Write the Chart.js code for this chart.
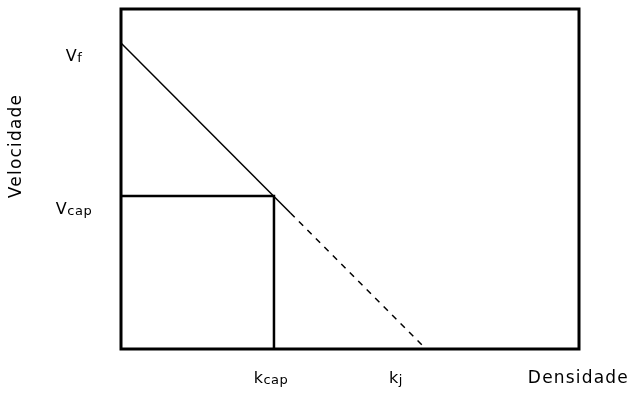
<!DOCTYPE html>
<html>
<head>
<meta charset="utf-8">
<script src="https://cdn.jsdelivr.net/npm/chart.js@4"></script>
<style>
  body { margin: 0; background: #fff; }
  #wrap { width: 630px; height: 394px; }
</style>
</head>
<body>
<div id="wrap"><canvas id="diagram"></canvas></div>
<script>
// values (axes run 0..100)
var vf = 90;
var vcap = 45;
var kcap = 33.4;
var kj = 66.6;
var solidEnd = [37, 40];   // where the solid line turns dashed

var yTickValues = [vf, vcap];
var yTickMain = ['V', 'V'];
var yTickSub = ['f', 'cap'];
var xTickValues = [kcap, kj];
var xTickMain = ['k', 'k'];
var xTickSub = ['cap', 'j'];
var xTitle = 'Densidade';
var yTitle = 'Velocidade';

var FONT = '"DejaVu Sans", sans-serif';

function drawSubLabel(ctx, main, sub, cx, baseY) {
    ctx.letterSpacing = '0.5px';
    ctx.font = '16px ' + FONT;
    var w1 = ctx.measureText(main).width;
    ctx.font = '13px ' + FONT;
    var w2 = ctx.measureText(sub).width;
    var x0 = cx - (w1 + w2) / 2;
    ctx.textAlign = 'left';
    ctx.textBaseline = 'alphabetic';
    ctx.font = '16px ' + FONT;
    ctx.fillText(main, x0, baseY);
    ctx.font = '13px ' + FONT;
    ctx.fillText(sub, x0 + w1, baseY + 1);
}

var labelsPlugin = {
    id: 'labels',
    afterDatasetsDraw: function (chart) {
        var ctx = chart.ctx;
        var a = chart.chartArea;
        var xs = chart.scales.x, ys = chart.scales.y;
        ctx.save();
        // frame
        ctx.strokeStyle = '#000';
        ctx.lineWidth = 3;
        ctx.strokeRect(a.left, a.top, a.right - a.left, a.bottom - a.top);

        ctx.fillStyle = '#000';
        for (var i = 0; i < yTickValues.length; i++) {
            var py = ys.getPixelForValue(yTickValues[i]);
            drawSubLabel(ctx, yTickMain[i], yTickSub[i], 74, py + 18);
        }
        var xShift = [-3, -30];
        for (var j = 0; j < xTickValues.length; j++) {
            var px = xs.getPixelForValue(xTickValues[j]);
            drawSubLabel(ctx, xTickMain[j], xTickSub[j], px + xShift[j], a.bottom + 34);
        }

        ctx.letterSpacing = '1.2px';
        ctx.font = '17px ' + FONT;
        ctx.textAlign = 'right';
        ctx.textBaseline = 'alphabetic';
        ctx.fillText(xTitle, 629, a.bottom + 34);

        ctx.translate(21, 146);
        ctx.rotate(-Math.PI / 2);
        ctx.textAlign = 'center';
        ctx.fillText(yTitle, 0, 0);
        ctx.restore();
    }
};

var ctx = document.getElementById('diagram').getContext('2d');
var diagram = new Chart(ctx, {
    type: 'scatter',
    data: {
        datasets: [{
            label: 'velocidade-densidade',
            data: [{x: 0, y: vf}, {x: solidEnd[0], y: solidEnd[1]}, {x: kj, y: 0}],
            showLine: true,
            borderColor: '#000',
            borderWidth: 1.5,
            pointRadius: 0,
            clip: false,
            segment: {
                borderDash: function (c) { return c.p0DataIndex === 1 ? [6, 6] : undefined; }
            }
        }, {
            label: 'capacidade',
            data: [{x: 0, y: vcap}, {x: kcap, y: vcap}, {x: kcap, y: 0}],
            showLine: true,
            borderColor: '#000',
            borderWidth: 2.5,
            pointRadius: 0,
            clip: false
        }]
    },
    options: {
        responsive: true,
        maintainAspectRatio: false,
        animation: false,
        layout: { padding: { left: 121, top: 9, right: 51, bottom: 45 } },
        plugins: { legend: { display: false }, tooltip: { enabled: false } },
        scales: {
            x: { type: 'linear', min: 0, max: 100, display: false },
            y: { type: 'linear', min: 0, max: 100, display: false }
        }
    },
    plugins: [labelsPlugin]
});
</script>
</body>
</html>
